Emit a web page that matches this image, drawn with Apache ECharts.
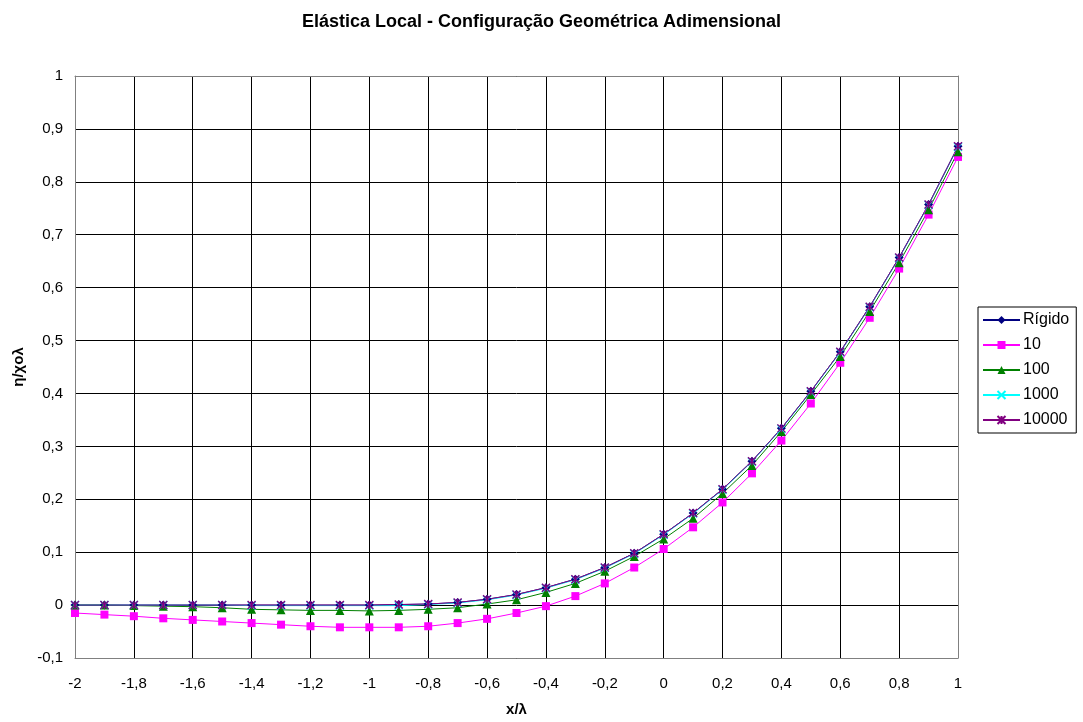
<!DOCTYPE html>
<html>
<head>
<meta charset="utf-8">
<script src="https://cdn.jsdelivr.net/npm/echarts@6/dist/echarts.min.js"></script>
<style>
  html, body { margin: 0; padding: 0; background: #fff; }
  #chart { width: 1083px; height: 722px; }
</style>
</head>
<body>
<div id="chart"></div>
<script>
// x/λ positions
const xValues = [-2, -1.9, -1.8, -1.7, -1.6, -1.5, -1.4, -1.3, -1.2, -1.1, -1.0, -0.9, -0.8, -0.7, -0.6, -0.5, -0.4, -0.3, -0.2, -0.1,
  0, 0.1, 0.2, 0.3, 0.4, 0.5, 0.6, 0.7, 0.8, 0.9, 1.0];

// η/χoλ for each stiffness case
const rigido = [0, 0, 0, 0, 0, 0, 0, 0, 0, 0, 0, 0.001, 0.002, 0.005, 0.011, 0.020, 0.033, 0.049, 0.071, 0.098,
  0.134, 0.174, 0.219, 0.272, 0.334, 0.404, 0.479, 0.564, 0.657, 0.757, 0.867];
const k10 = [-0.015, -0.018, -0.021, -0.025, -0.028, -0.031, -0.034, -0.037, -0.040, -0.042, -0.042, -0.042, -0.040, -0.034, -0.026, -0.015, -0.002, 0.017, 0.041, 0.071,
  0.106, 0.147, 0.194, 0.249, 0.311, 0.381, 0.458, 0.543, 0.636, 0.738, 0.847];
const k100 = [0, 0, -0.001, -0.002, -0.003, -0.005, -0.008, -0.009, -0.010, -0.010, -0.011, -0.010, -0.008, -0.005, 0.002, 0.010, 0.024, 0.041, 0.064, 0.092,
  0.125, 0.164, 0.211, 0.264, 0.328, 0.398, 0.470, 0.555, 0.647, 0.747, 0.857];
const k1000 = [0, 0, 0, 0, 0, 0, -0.001, -0.001, -0.001, -0.001, -0.001, -0.001, 0.001, 0.004, 0.010, 0.019, 0.032, 0.048, 0.070, 0.097,
  0.133, 0.173, 0.218, 0.271, 0.333, 0.403, 0.478, 0.563, 0.656, 0.756, 0.866];
const k10000 = [0, 0, 0, 0, 0, 0, 0, 0, 0, 0, 0, 0.001, 0.002, 0.005, 0.011, 0.020, 0.033, 0.049, 0.071, 0.098,
  0.134, 0.174, 0.219, 0.272, 0.334, 0.404, 0.479, 0.564, 0.657, 0.757, 0.867];

const seriesNames = ['Rígido', '10', '100', '1000', '10000'];
const seriesColors = ['#000080', '#FF00FF', '#008000', '#00FFFF', '#800080'];

const crossPath = 'path://M0 0L10 10M10 0L0 10';
const starPath = 'path://M0 0L10 10M10 0L0 10M5 0L5 10';

function pairs(ys) { return xValues.map((x, i) => [x, ys[i]]); }
function fmt(v) { return String(Math.round(v * 10) / 10).replace('.', ','); }

const font = 'Liberation Sans, Arial, sans-serif';
const frameColor = '#808080';

function makeSeries(name, ys, color, symbol, size, stroked) {
  return {
    name: name,
    type: 'line',
    data: pairs(ys),
    symbol: symbol,
    symbolSize: size,
    showAllSymbol: true,
    z: 5,
    lineStyle: { color: color, width: 1 },
    itemStyle: stroked
      ? { color: 'rgba(0,0,0,0)', borderColor: color, borderWidth: 1.4 }
      : { color: color, borderWidth: 0 },
    emphasis: { disabled: true },
    animation: false
  };
}

// plain frame axes for the top and right edges of the plot area
function frameAxis(position, min, max, interval) {
  return {
    type: 'value', position: position, min: min, max: max, interval: interval,
    axisLine: { show: true, onZero: false, lineStyle: { color: frameColor, width: 1 } },
    axisTick: { show: false }, axisLabel: { show: false }, splitLine: { show: false }
  };
}

const chart = echarts.init(document.getElementById('chart'));
chart.setOption({
  animation: false,
  backgroundColor: '#ffffff',
  title: {
    text: 'Elástica Local - Configuração Geométrica Adimensional',
    left: 'center',
    top: 8,
    textStyle: { fontFamily: font, fontSize: 18, fontWeight: 'bold', color: '#000' }
  },
  grid: { left: 75, right: 125, top: 76, bottom: 63 },
  legend: {
    orient: 'vertical',
    left: 978,
    top: 307,
    width: 100,
    padding: [5, 7, 5, 4],
    borderColor: '#000',
    borderWidth: 1,
    itemWidth: 37,
    itemHeight: 10,
    itemGap: 9,
    textStyle: { fontFamily: font, fontSize: 16, color: '#000', padding: [0, 0, 0, -2] },
    data: seriesNames
  },
  xAxis: [{
    type: 'value',
    min: -2,
    max: 1,
    interval: 0.2,
    name: 'x/λ',
    nameLocation: 'middle',
    nameGap: 44,
    nameTextStyle: { fontFamily: font, fontSize: 15, fontWeight: 'bold', color: '#000' },
    axisLine: { show: true, onZero: false, lineStyle: { color: frameColor, width: 1 } },
    axisTick: { show: false },
    axisLabel: { fontFamily: font, fontSize: 15, color: '#000', margin: 18, formatter: fmt },
    splitLine: { show: true, lineStyle: { color: '#000', width: 1 } }
  }, frameAxis('top', -2, 1, 0.2)],
  yAxis: [{
    type: 'value',
    min: -0.1,
    max: 1,
    interval: 0.1,
    name: 'η/χoλ',
    nameLocation: 'middle',
    nameGap: 48,
    nameTextStyle: { fontFamily: font, fontSize: 15, fontWeight: 'bold', color: '#000' },
    axisLine: { show: true, onZero: false, lineStyle: { color: frameColor, width: 1 } },
    axisTick: { show: false },
    axisLabel: { fontFamily: font, fontSize: 15, color: '#000', margin: 12, formatter: fmt },
    splitLine: { show: true, lineStyle: { color: '#000', width: 1 } }
  }, frameAxis('right', -0.1, 1, 0.1)],
  series: [
    makeSeries(seriesNames[0], rigido, seriesColors[0], 'diamond', 9, false),
    makeSeries(seriesNames[1], k10, seriesColors[1], 'rect', 8, false),
    makeSeries(seriesNames[2], k100, seriesColors[2], 'triangle', 9, false),
    makeSeries(seriesNames[3], k1000, seriesColors[3], crossPath, 8, true),
    makeSeries(seriesNames[4], k10000, seriesColors[4], starPath, 8, true)
  ]
});
</script>
</body>
</html>
